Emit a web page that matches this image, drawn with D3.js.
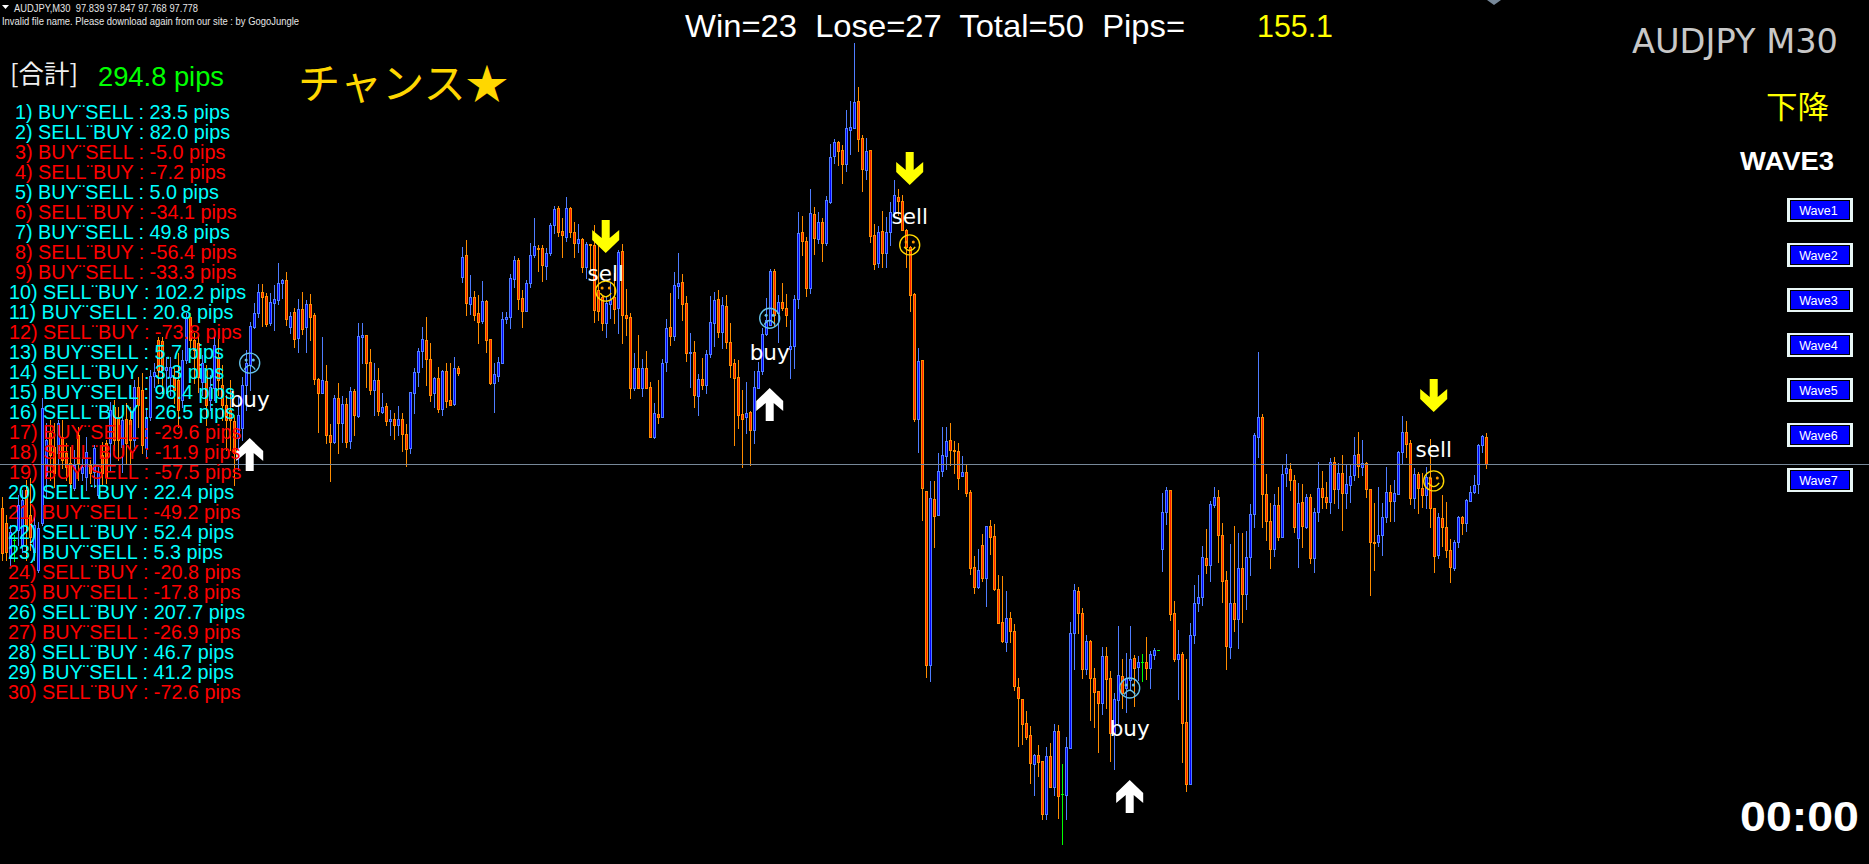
<!DOCTYPE html>
<html><head><meta charset="utf-8">
<script src="https://cdn.jsdelivr.net/npm/d3@7"></script>
<style>html,body{margin:0;padding:0;background:#000;overflow:hidden}svg{display:block}</style>
</head><body><svg id="c" width="1869" height="864"></svg>
<script>
const highs=[97.704,97.663,97.641,97.618,97.708,97.720,97.742,97.747,97.675,97.648,
97.927,97.870,97.877,97.870,97.877,97.877,97.825,97.816,97.810,97.861,
97.794,97.839,97.787,97.821,97.771,97.827,97.832,97.918,97.922,97.906,
97.888,97.915,97.906,97.967,97.974,97.983,97.904,97.990,98.005,98.064,
98.064,98.019,98.019,97.996,98.028,98.035,98.118,98.118,98.073,98.068,
98.023,98.001,97.978,98.080,98.080,98.001,97.933,97.967,97.888,97.933,
97.974,98.035,98.098,98.140,98.183,98.183,98.163,98.163,98.181,98.230,
98.194,98.210,98.120,98.129,98.149,98.165,98.147,98.161,98.118,97.972,
98.064,98.001,97.868,97.933,97.960,97.931,97.927,97.951,97.947,98.095,
98.095,98.068,98.037,98.005,97.994,97.938,97.915,97.900,97.893,97.908,
97.893,97.868,97.940,97.994,98.039,98.086,98.109,98.050,97.974,97.996,
97.990,98.005,98.005,98.019,97.998,98.266,98.282,98.203,98.167,98.158,
98.190,98.147,98.059,98.005,98.019,98.120,98.120,98.206,98.246,98.242,
98.170,98.192,98.275,98.332,98.271,98.271,98.264,98.320,98.358,98.358,
98.332,98.379,98.356,98.322,98.318,98.287,98.278,98.273,98.316,98.275,
98.158,98.154,98.188,98.208,98.260,98.273,98.172,98.118,98.028,98.068,
98.014,98.032,97.962,97.915,97.967,98.014,98.104,98.163,98.210,98.253,
98.206,98.156,98.073,98.055,97.981,98.017,98.035,98.156,98.165,98.170,
98.154,98.158,98.095,98.014,98.012,97.945,97.962,97.897,97.987,98.007,
98.084,98.152,98.217,98.217,98.158,98.185,98.161,98.102,98.158,98.345,
98.336,98.289,98.397,98.356,98.345,98.332,98.381,98.498,98.509,98.505,
98.496,98.574,98.595,98.725,98.626,98.518,98.512,98.485,98.318,98.314,
98.347,98.334,98.367,98.417,98.397,98.383,98.307,98.269,98.163,98.039,
98.012,97.717,97.740,97.740,97.803,97.861,97.861,97.870,97.830,97.825,
97.796,97.778,97.720,97.571,97.587,97.621,97.639,97.652,97.643,97.528,
97.526,97.492,97.445,97.418,97.297,97.249,97.222,97.189,97.125,97.146,
97.110,97.141,97.150,97.193,97.191,97.103,97.164,97.422,97.508,97.501,
97.454,97.393,97.382,97.319,97.267,97.366,97.366,97.312,97.263,97.413,
97.339,97.353,97.413,97.348,97.346,97.350,97.389,97.357,97.364,97.359,
97.713,97.726,97.720,97.470,97.404,97.355,97.339,97.420,97.506,97.528,
97.594,97.632,97.695,97.726,97.720,97.645,97.537,97.598,97.639,97.623,
97.623,97.627,97.688,97.848,98.030,97.891,97.756,97.690,97.711,97.726,
97.776,97.801,97.780,97.753,97.735,97.733,97.711,97.711,97.679,97.782,
97.762,97.737,97.792,97.794,97.780,97.798,97.778,97.778,97.839,97.850,
97.832,97.782,97.722,97.690,97.726,97.690,97.771,97.731,97.742,97.807,
97.886,97.875,97.832,97.769,97.760,97.758,97.771,97.834,97.679,97.668,
97.708,97.692,97.609,97.607,97.661,97.661,97.699,97.729,97.753,97.823,
97.843,97.847];
const lows=[97.562,97.562,97.551,97.560,97.596,97.580,97.562,97.585,97.562,97.535,
97.641,97.704,97.742,97.726,97.780,97.769,97.742,97.726,97.720,97.742,
97.742,97.720,97.735,97.726,97.704,97.731,97.735,97.764,97.810,97.787,
97.760,97.780,97.764,97.810,97.861,97.803,97.794,97.877,97.951,97.960,
97.938,97.938,97.933,97.915,97.861,97.906,98.005,98.028,97.960,97.940,
97.933,97.866,97.900,97.922,97.933,97.877,97.810,97.810,97.731,97.764,
97.832,97.900,97.944,98.084,98.109,98.088,98.088,98.091,98.080,98.138,
98.152,98.091,98.073,98.041,98.030,98.070,98.030,98.057,97.958,97.850,
97.938,97.825,97.740,97.825,97.803,97.827,97.816,97.814,97.843,97.884,
98.005,97.951,97.936,97.888,97.888,97.893,97.866,97.843,97.834,97.843,
97.807,97.774,97.803,97.893,97.954,97.996,97.956,97.920,97.906,97.895,
97.888,97.906,97.911,97.911,97.978,98.188,98.113,98.116,98.102,98.050,
98.095,98.030,97.958,97.895,97.965,98.005,98.095,98.084,98.176,98.127,
98.086,98.122,98.176,98.244,98.212,98.190,98.194,98.248,98.298,98.291,
98.244,98.280,98.289,98.244,98.255,98.210,98.197,98.215,98.098,98.102,
98.080,98.064,98.106,98.095,98.073,98.050,98.068,97.927,97.944,97.949,
97.931,97.949,97.839,97.836,97.870,97.884,97.987,98.046,98.057,98.152,
98.102,98.010,97.951,97.906,97.888,97.947,97.938,98.019,98.044,98.064,
98.039,98.039,97.974,97.821,97.859,97.771,97.848,97.776,97.825,97.949,
97.980,98.068,98.091,98.091,98.053,98.124,98.088,97.972,97.994,98.129,
98.248,98.156,98.163,98.251,98.275,98.235,98.271,98.365,98.455,98.451,
98.410,98.437,98.476,98.534,98.482,98.392,98.419,98.277,98.217,98.221,
98.221,98.221,98.271,98.338,98.338,98.305,98.221,98.122,97.875,97.805,
97.652,97.299,97.290,97.591,97.663,97.751,97.767,97.776,97.758,97.722,
97.751,97.706,97.530,97.488,97.499,97.515,97.459,97.576,97.494,97.420,
97.378,97.357,97.378,97.270,97.144,97.148,97.159,97.060,97.033,97.076,
96.979,96.979,97.051,97.033,96.982,96.923,96.979,97.139,97.317,97.398,
97.297,97.306,97.202,97.186,97.130,97.215,97.229,97.110,97.092,97.195,
97.229,97.220,97.270,97.233,97.292,97.290,97.294,97.274,97.339,97.359,
97.537,97.643,97.427,97.335,97.249,97.108,97.042,97.058,97.375,97.447,
97.461,97.533,97.515,97.681,97.558,97.467,97.317,97.342,97.402,97.364,
97.422,97.452,97.528,97.636,97.794,97.636,97.607,97.544,97.571,97.607,
97.614,97.729,97.720,97.625,97.546,97.591,97.634,97.555,97.535,97.650,
97.679,97.679,97.668,97.690,97.679,97.630,97.679,97.692,97.742,97.749,
97.753,97.704,97.483,97.540,97.594,97.573,97.648,97.650,97.650,97.711,
97.780,97.794,97.688,97.679,97.668,97.681,97.679,97.636,97.535,97.566,
97.594,97.569,97.513,97.540,97.591,97.620,97.627,97.695,97.713,97.713,
97.805,97.768];
const opens=[97.679,97.645,97.566,97.607,97.630,97.596,97.720,97.663,97.580,97.540,
97.645,97.753,97.848,97.816,97.803,97.839,97.803,97.780,97.724,97.843,
97.758,97.749,97.776,97.760,97.708,97.798,97.825,97.825,97.906,97.884,
97.816,97.879,97.877,97.832,97.951,97.944,97.814,97.884,97.976,98.057,
98.055,97.990,97.974,97.974,97.967,97.922,98.012,98.109,98.057,98.050,
97.962,97.990,97.922,97.949,98.019,97.956,97.911,97.900,97.875,97.836,
97.859,97.956,98.001,98.086,98.118,98.165,98.156,98.095,98.140,98.147,
98.185,98.192,98.086,98.120,98.062,98.127,98.086,98.138,98.113,97.969,
97.938,97.965,97.843,97.827,97.927,97.870,97.913,97.830,97.942,97.886,
98.064,98.068,98.007,97.944,97.967,97.895,97.908,97.875,97.879,97.866,
97.879,97.846,97.814,97.938,97.985,98.032,98.057,98.014,97.938,97.972,
97.902,97.987,97.922,97.913,97.994,98.199,98.248,98.138,98.154,98.118,
98.100,98.145,98.059,97.960,97.976,98.005,98.104,98.109,98.194,98.237,
98.152,98.122,98.185,98.248,98.264,98.264,98.224,98.253,98.316,98.354,
98.302,98.289,98.354,98.300,98.275,98.284,98.221,98.273,98.271,98.170,
98.154,98.095,98.138,98.154,98.129,98.257,98.113,98.109,97.949,97.994,
97.949,97.994,97.951,97.839,97.891,97.884,98.007,98.086,98.066,98.178,
98.188,98.140,98.028,98.030,97.931,97.969,97.956,98.026,98.095,98.149,
98.075,98.134,98.053,98.005,97.974,97.891,97.884,97.895,97.855,97.949,
97.987,98.071,98.091,98.212,98.118,98.143,98.129,98.037,98.044,98.149,
98.300,98.280,98.174,98.340,98.284,98.322,98.275,98.367,98.471,98.502,
98.485,98.453,98.530,98.534,98.595,98.512,98.440,98.485,98.293,98.230,
98.302,98.253,98.300,98.345,98.379,98.370,98.305,98.266,98.161,97.879,
98.012,97.717,97.326,97.699,97.663,97.762,97.796,97.832,97.810,97.807,
97.751,97.760,97.715,97.546,97.501,97.596,97.522,97.639,97.616,97.497,
97.423,97.378,97.431,97.402,97.276,97.249,97.195,97.168,97.103,97.123,
97.110,96.991,97.121,97.051,97.177,97.035,97.033,97.139,97.398,97.492,
97.443,97.317,97.380,97.297,97.267,97.240,97.346,97.297,97.173,97.247,
97.301,97.274,97.292,97.342,97.321,97.332,97.332,97.319,97.348,97.359,
97.587,97.670,97.720,97.443,97.339,97.350,97.198,97.058,97.393,97.465,
97.479,97.566,97.551,97.686,97.704,97.618,97.517,97.366,97.465,97.429,
97.544,97.486,97.569,97.666,97.839,97.884,97.711,97.650,97.587,97.686,
97.614,97.758,97.767,97.742,97.612,97.692,97.636,97.704,97.566,97.670,
97.724,97.704,97.692,97.782,97.722,97.758,97.713,97.731,97.753,97.801,
97.771,97.780,97.722,97.602,97.602,97.618,97.659,97.715,97.695,97.711,
97.805,97.850,97.825,97.701,97.756,97.724,97.708,97.747,97.679,97.573,
97.656,97.636,97.584,97.544,97.602,97.659,97.645,97.695,97.715,97.733,
97.821,97.839];
const closes=[97.578,97.580,97.625,97.607,97.686,97.697,97.641,97.614,97.641,97.634,
97.904,97.832,97.798,97.758,97.870,97.787,97.771,97.735,97.776,97.780,
97.771,97.805,97.758,97.814,97.760,97.758,97.749,97.900,97.832,97.832,
97.877,97.825,97.832,97.951,97.911,97.821,97.884,97.976,97.985,97.990,
97.990,97.996,97.996,97.944,97.900,98.012,98.109,98.057,98.035,97.974,
98.005,97.911,97.951,98.046,97.967,97.911,97.877,97.877,97.803,97.888,
97.956,98.005,98.088,98.118,98.165,98.154,98.093,98.143,98.149,98.185,
98.192,98.104,98.111,98.059,98.127,98.082,98.138,98.109,97.969,97.938,
97.967,97.843,97.827,97.927,97.870,97.913,97.827,97.942,97.888,98.066,
98.068,98.005,97.944,97.967,97.897,97.906,97.875,97.879,97.866,97.879,
97.846,97.812,97.940,97.985,98.032,98.059,98.014,97.933,97.972,97.902,
97.987,97.920,97.911,97.994,97.983,98.244,98.140,98.154,98.113,98.098,
98.145,98.057,97.960,97.980,98.007,98.104,98.109,98.197,98.237,98.149,
98.122,98.185,98.248,98.269,98.262,98.226,98.253,98.316,98.352,98.300,
98.293,98.354,98.300,98.275,98.284,98.221,98.273,98.271,98.124,98.122,
98.095,98.140,98.147,98.127,98.255,98.113,98.106,97.949,97.994,97.949,
97.994,97.949,97.839,97.893,97.884,98.005,98.084,98.066,98.181,98.185,
98.138,98.028,98.030,97.933,97.969,97.956,98.026,98.098,98.147,98.075,
98.136,98.053,98.001,97.972,97.888,97.879,97.893,97.855,97.951,97.987,
98.071,98.102,98.212,98.113,98.143,98.129,98.113,98.044,98.149,98.298,
98.280,98.174,98.343,98.287,98.322,98.275,98.372,98.469,98.502,98.482,
98.453,98.534,98.536,98.592,98.509,98.442,98.482,98.291,98.228,98.300,
98.253,98.300,98.345,98.383,98.370,98.305,98.266,98.158,97.879,98.010,
97.724,97.326,97.702,97.661,97.762,97.798,97.830,97.810,97.807,97.747,
97.760,97.713,97.544,97.501,97.540,97.522,97.639,97.614,97.497,97.420,
97.380,97.431,97.402,97.279,97.252,97.193,97.164,97.105,97.123,97.107,
96.991,97.121,97.051,97.177,97.031,97.035,97.141,97.398,97.495,97.443,
97.317,97.380,97.297,97.265,97.240,97.346,97.294,97.173,97.249,97.303,
97.263,97.297,97.339,97.319,97.332,97.332,97.319,97.350,97.359,97.359,
97.670,97.720,97.441,97.339,97.350,97.195,97.058,97.393,97.465,97.479,
97.569,97.551,97.688,97.704,97.618,97.515,97.369,97.465,97.429,97.544,
97.486,97.569,97.666,97.843,97.884,97.711,97.650,97.587,97.686,97.614,
97.756,97.769,97.742,97.636,97.690,97.639,97.704,97.566,97.670,97.724,
97.704,97.692,97.782,97.722,97.758,97.713,97.733,97.751,97.798,97.774,
97.780,97.722,97.602,97.600,97.618,97.659,97.715,97.695,97.713,97.805,
97.850,97.823,97.701,97.756,97.724,97.708,97.749,97.679,97.571,97.659,
97.636,97.584,97.546,97.602,97.659,97.645,97.697,97.715,97.731,97.821,
97.841,97.778];

const bidPrice=97.778;
const tradePips=[23.5,82.0,-5.0,-7.2,5.0,-34.1,49.8,-56.4,-33.3,102.2,20.8,-73.8,5.7,3.3,96.4,26.5,-29.6,-11.9,-57.5,22.4,-49.2,52.4,5.3,-20.8,-17.8,207.7,-26.9,46.7,41.2,-72.6];
const tradeSides=["BUY¨SELL","SELL¨BUY"];
const waveLabels=["Wave1","Wave2","Wave3","Wave4","Wave5","Wave6","Wave7"];
const signalKinds=["buy","sell","buy","sell","buy","sell"];
const signalBars=[61.8,150.8,191.8,226.8,281.8,357.8];
const signalArrowPrices=[97.8365,98.253,97.949,98.406,97.067,97.895];
const signalLabelPrices=[97.906,98.190,98.012,98.318,97.166,97.794];
const signalFacePrices=[98.005,98.167,98.106,98.271,97.274,97.740];

const svg=d3.select("#c");
const x=d3.scaleLinear().domain([0,371]).range([2.5,1486.5]);
const y=d3.scaleLinear().domain([98.822,96.878]).range([0,864]);
const Y=v=>Math.round(y(v));
const UP_EDGE="#4f7dff",UP_FILL="#0000ff",DN_EDGE="#ff8c00",DN_FILL="#ff1e00",DOJI="#00ff00";
const edge=i=>closes[i]>opens[i]?UP_EDGE:closes[i]<opens[i]?DN_EDGE:DOJI;
const inner=i=>closes[i]>opens[i]?UP_FILL:closes[i]<opens[i]?DN_FILL:DOJI;
const bodyTop=i=>Y(Math.max(opens[i],closes[i]));
const bodyBottom=i=>Y(Math.min(opens[i],closes[i]));
const idx=d3.range(highs.length);
const cg=svg.append("g").attr("shape-rendering","crispEdges");
cg.selectAll("line").data(idx).join("line")
 .attr("x1",i=>x(i)).attr("x2",i=>x(i))
 .attr("y1",i=>Y(highs[i])).attr("y2",i=>Y(lows[i])+1)
 .attr("stroke",edge).attr("stroke-width",1);
cg.selectAll("rect.outer").data(idx).join("rect").attr("class","outer")
 .attr("x",i=>x(i)-1.5).attr("width",3)
 .attr("y",bodyTop).attr("height",i=>bodyBottom(i)-bodyTop(i)+1)
 .attr("fill",edge);
cg.selectAll("rect.inner").data(idx).join("rect").attr("class","inner")
 .attr("x",i=>x(i)-0.5).attr("width",1)
 .attr("y",i=>bodyTop(i)+1).attr("height",i=>Math.max(0,bodyBottom(i)-bodyTop(i)-1))
 .attr("fill",inner);

svg.append("line").attr("x1",0).attr("x2",1869).attr("y1",Y(bidPrice)+0.5).attr("y2",Y(bidPrice)+0.5)
 .attr("stroke","#778899").attr("stroke-width",1).attr("shape-rendering","crispEdges");

const ARIAL="'Liberation Sans',Arial,sans-serif",DEJA="'DejaVu Sans',sans-serif",CJK="'Noto Sans CJK JP',sans-serif";
function T(px,py,s,size,fill,font,opt={}){
 const t=svg.append("text").attr("x",px).attr("y",py).text(s)
  .attr("font-size",size).attr("fill",fill).attr("font-family",font);
 if(opt.anchor)t.attr("text-anchor",opt.anchor);
 if(opt.weight)t.attr("font-weight",opt.weight);
 if(opt.len)t.attr("textLength",opt.len).attr("lengthAdjust","spacingAndGlyphs");
 return t;
}

const upArrow="M0,0L13.5,13L13.5,23L4,15L4,33L-4,33L-4,15L-13.5,23L-13.5,13Z";
const downArrow="M0,0L13.5,-13L13.5,-23L4,-15L4,-33L-4,-33L-4,-15L-13.5,-23L-13.5,-13Z";
signalKinds.forEach((k,i)=>{
 const sx=x(signalBars[i]);
 const buy=k==="buy";
 svg.append("path").attr("d",buy?upArrow:downArrow)
  .attr("transform",`translate(${sx},${y(signalArrowPrices[i])})`)
  .attr("fill",buy?"#fff":"#ffff00");
 T(sx,y(signalLabelPrices[i]),k,21.5,"#fff",DEJA,{anchor:"middle"});
 const col=buy?"#66c2e8":"#ffd700";
 const eye=buy?"#66c2e8":"#ff9a00";
 const f=svg.append("g").attr("transform",`translate(${sx},${y(signalFacePrices[i])})`);
 f.append("circle").attr("r",10).attr("fill","none").attr("stroke",col).attr("stroke-width",1.4);
 [-3.6,3.6].forEach(d=>f.append("circle").attr("cx",d).attr("cy",-3).attr("r",1.5).attr("fill",eye));
 f.append("path").attr("d",buy?"M-5.5,6.5Q0,-2 5.5,6.5":"M-5.5,2Q0,9.5 5.5,2")
  .attr("fill","none").attr("stroke",col).attr("stroke-width",1.4);
});

svg.append("path").attr("d","M1487,0L1501,0L1494,5Z").attr("fill","#778899");

svg.append("path").attr("d","M2,5L9,5L5.5,9Z").attr("fill","#fff");
T(14,12,"AUDJPY,M30  97.839 97.847 97.768 97.778",11,"#e6e6e6",ARIAL,{len:184}).style("white-space","pre");
T(2,25,"Invalid file name. Please download again from our site : by GogoJungle",10.5,"#e6e6e6",ARIAL,{len:297});

T(685,37,"Win=23  Lose=27  Total=50  Pips=",32,"#fff",ARIAL,{len:500}).style("white-space","pre");
T(1257,37,"155.1",32,"#ffff00",ARIAL,{len:76});

T(10,83,"[合計]",25,"#f0f0f0",CJK,{len:68});
T(98,86,"294.8 pips",27.3,"#00ff00",ARIAL);
T(298,99,"チャンス★",42,"#ffd700",CJK,{len:210});

tradePips.forEach((v,i)=>{
 const n=i+1;
 const sx=n<10?15:n<20?9:8;
 const s=`${n}) ${tradeSides[i%2]} : ${v.toFixed(1)} pips`;
 T(sx,119+20*i,s,19.8,v>=0?"#00ffff":"#ff0000",ARIAL);
});

T(1632,53,"AUDJPY M30",33,"#c8c8c8",DEJA,{len:206});
T(1766,118,"下降",31,"#ffff00",CJK,{len:63});
T(1740,170,"WAVE3",26.5,"#fff",ARIAL,{weight:"bold",len:94});
T(1740,831,"00:00",42,"#fff",ARIAL,{weight:"bold",len:119});

waveLabels.forEach((w,i)=>{
 const top=198+45*i;
 const g=svg.append("g").attr("shape-rendering","crispEdges");
 g.append("rect").attr("x",1787).attr("y",top).attr("width",66).attr("height",24).attr("fill","#e8f6f6");
 g.append("rect").attr("x",1790).attr("y",top+2).attr("width",60).attr("height",20).attr("fill","#000");
 g.append("rect").attr("x",1791).attr("y",top+3).attr("width",58).attr("height",18).attr("fill","#0000ff");
 T(1818.5,top+17,w,12.5,"#fff",ARIAL,{anchor:"middle"});
});
</script>
</body></html>
